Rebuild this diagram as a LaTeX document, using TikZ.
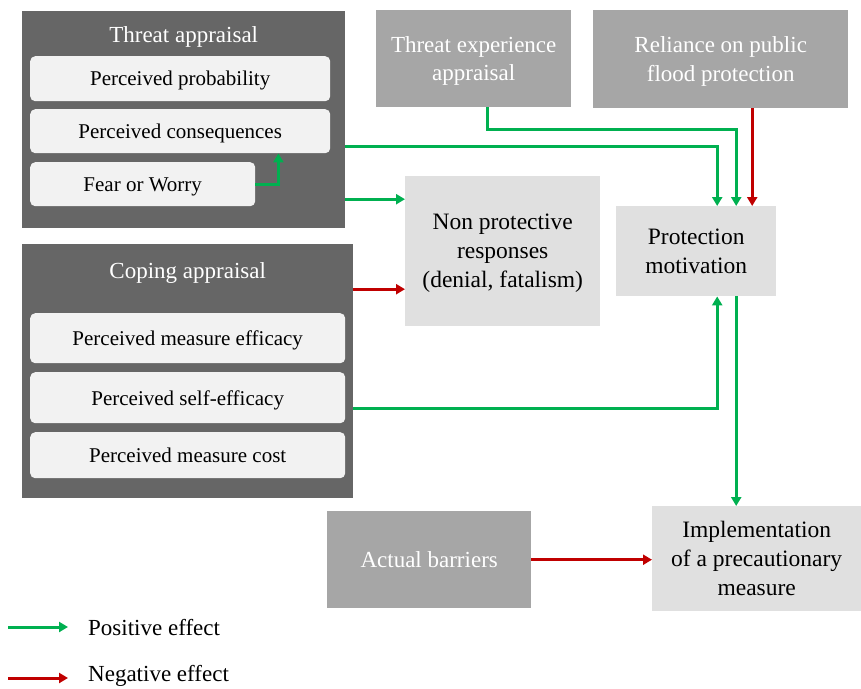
\documentclass[tikz,border=0pt]{standalone}
\usepackage{fontspec}
\setmainfont{Liberation Serif}
\usetikzlibrary{arrows.meta}
\definecolor{groupgrey}{HTML}{666666}
\definecolor{itemgrey}{HTML}{F2F2F2}
\definecolor{midgrey}{HTML}{A6A6A6}
\definecolor{lightgrey}{HTML}{E0E0E0}
\definecolor{posgreen}{HTML}{00B050}
\definecolor{negred}{HTML}{C00000}
\begin{document}
\begin{tikzpicture}[x=1pt,y=-1pt,
  group/.style={fill=groupgrey,anchor=north west,inner sep=0pt},
  title/.style={text=white,inner sep=0pt,font=\fontsize{23}{27}\selectfont},
  item/.style={fill=itemgrey,rounded corners=5pt,anchor=north west,inner sep=0pt,text depth=0pt,font=\fontsize{21}{25}\selectfont},
  outer/.style={fill=midgrey,text=white,anchor=north west,inner sep=0pt,align=center,text depth=0pt,font=\fontsize{23}{28.5}\selectfont},
  inner/.style={fill=lightgrey,anchor=north west,inner sep=0pt,align=center,text depth=0pt,font=\fontsize{23.5}{29}\selectfont},
  posarrow/.style={draw=posgreen,line width=3pt,-{Triangle[length=9pt,width=10pt]}},
  negarrow/.style={draw=negred,line width=3pt,-{Triangle[length=9pt,width=10pt]}}]
\useasboundingbox (0,0) rectangle (861,688);
\node[group,minimum width=323pt,minimum height=217pt] (threat) at (22,11) {};
\node[title] (threattitle) at ([yshift=-26pt]threat.north) {Threat appraisal};
\node[item,minimum width=300pt,minimum height=45pt] (prob) at (30,56) {Perceived probability};
\node[item,minimum width=300pt,minimum height=44pt] (cons) at (30,109) {Perceived consequences};
\node[item,minimum width=225pt,minimum height=44pt] (fear) at (30,162) {Fear or Worry};
\node[group,minimum width=331pt,minimum height=254pt] (cope) at (22,244) {};
\node[title] (copetitle) at ([yshift=-29pt]cope.north) {Coping appraisal};
\node[item,minimum width=315pt,minimum height=50pt] (eff) at (30,313) {Perceived measure efficacy};
\node[item,minimum width=315pt,minimum height=51pt] (self) at (30,372) {Perceived self-efficacy};
\node[item,minimum width=315pt,minimum height=46pt] (cost) at (30,432) {Perceived measure cost};
\node[outer,minimum width=195pt,minimum height=97pt] (tea) at (376,10) {Threat experience\\appraisal};
\node[outer,minimum width=255pt,minimum height=98pt] (rel) at (593,10) {Reliance on public\\flood protection};
\node[inner,minimum width=195pt,minimum height=150pt] (npr) at (405,176) {Non protective\\responses\\(denial, fatalism)};
\node[inner,minimum width=160pt,minimum height=90pt] (pm) at (616,206) {Protection\\motivation};
\node[outer,minimum width=204pt,minimum height=97pt] (bar) at (327,511) {Actual barriers};
\node[inner,minimum width=209pt,minimum height=105pt] (impl) at (652,506) {Implementation\\of a precautionary\\measure};
\node[anchor=west,inner sep=0pt,font=\fontsize{23}{27}\selectfont] (posl) at (88,628) {Positive effect};
\node[anchor=west,inner sep=0pt,font=\fontsize{23}{27}\selectfont] (negl) at (88,676) {Negative effect};
\coordinate (lp) at (8,627);
\coordinate (ln) at (8,678);
\draw[posarrow] (fear.east) -- ++(23,0) coordinate (fw) -- (fw |- cons.south);
\draw[posarrow] ([yshift=-26.5pt]threat.east) -| ([xshift=21pt]pm.north);
\draw[posarrow] ([yshift=-79.5pt]threat.east) coordinate (t2) -- (npr.west |- t2);
\draw[posarrow] ([xshift=13.5pt]tea.south) -- ++(0,22) -| ([xshift=40pt]pm.north);
\draw[negarrow] ([xshift=56pt]pm.north |- rel.south) -- ([xshift=56pt]pm.north);
\draw[negarrow] ([yshift=82pt]cope.east) coordinate (c1) -- (npr.west |- c1);
\draw[posarrow] ([yshift=-37pt]cope.east) -| ([xshift=21pt]pm.south);
\draw[posarrow] ([xshift=40pt]pm.south) -- ([xshift=40pt]pm.south |- impl.north);
\draw[negarrow] (bar.east) -- (bar.east -| impl.west);
\draw[posarrow,shorten >=20pt] (lp) -- (lp -| posl.west);
\draw[negarrow,shorten >=20pt] (ln) -- (ln -| negl.west);
\end{tikzpicture}
\end{document}
